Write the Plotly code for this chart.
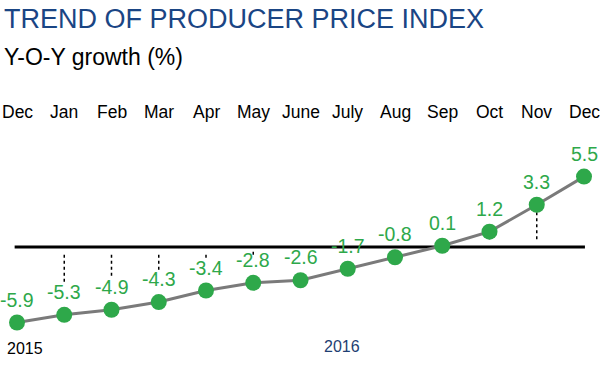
import plotly.graph_objects as go

months = ["Dec", "Jan", "Feb", "Mar", "Apr", "May", "June", "July", "Aug", "Sep", "Oct", "Nov", "Dec"]
ppi_yoy = [-5.9, -5.3, -4.9, -4.3, -3.4, -2.8, -2.6, -1.7, -0.8, 0.1, 1.2, 3.3, 5.5]
years = ["2015", "2016"]
year_pos = [0, 6.88]

W, H = 600, 381
PX_X = 47.25          # pixels per month
X0_PX = 17            # pixel of first point
PX_Y = 12.8           # pixels per percentage point
ZERO_PX = 247         # pixel row of zero line

x = list(range(len(months)))
xr = [-X0_PX / PX_X, (W - X0_PX) / PX_X]
yr = [-(H - ZERO_PX) / PX_Y, ZERO_PX / PX_Y]

def ypx(p):
    return (ZERO_PX - p) / PX_Y

GREEN = "#2ea84a"
FONT = "Liberation Sans, Arial, sans-serif"

fig = go.Figure()

# zero line
fig.add_shape(type="line", x0=-0.05, x1=12.02, y0=0, y1=0,
              line=dict(color="black", width=3), layer="below")

# dotted guide lines
label_gap = 31 / PX_Y
for i, v in enumerate(ppi_yoy):
    if i == 0 or i == len(ppi_yoy) - 1:
        continue
    if v < 0:
        end = v + label_gap
        if end < -0.2:
            fig.add_shape(type="line", x0=i, x1=i, y0=-0.6, y1=end,
                          line=dict(color="black", width=1.5, dash="dot"), layer="below")
    elif v > 0.5:
        fig.add_shape(type="line", x0=i, x1=i, y0=0.6, y1=v,
                      line=dict(color="black", width=1.5, dash="dot"), layer="below")

fig.add_trace(go.Scatter(
    x=x, y=ppi_yoy, mode="lines+markers",
    line=dict(color="#7a7a7a", width=3),
    marker=dict(color=GREEN, size=16, line=dict(width=0)),
    hoverinfo="skip", showlegend=False,
))

# value labels
for i, v in enumerate(ppi_yoy):
    fig.add_annotation(x=i, y=v, text=f"{v:.1f}", showarrow=False, yshift=23,
                       font=dict(family=FONT, size=19.5, color=GREEN))

# month labels
for i, m in enumerate(months):
    fig.add_annotation(x=i, y=ypx(112), text=m, showarrow=False,
                       font=dict(family=FONT, size=17.5, color="black"))

# years
fig.add_annotation(x=year_pos[0], y=ypx(348), text=years[0], showarrow=False,
                   xanchor="left", xshift=-12, font=dict(family=FONT, size=16, color="black"))
fig.add_annotation(x=year_pos[1], y=ypx(346), text=years[1], showarrow=False,
                   font=dict(family=FONT, size=16, color="#1f3f73"))

# title & subtitle
fig.add_annotation(xref="paper", yref="paper", x=2 / W, y=1 - 19 / H, text="TREND OF PRODUCER PRICE INDEX",
                   showarrow=False, xanchor="left", yanchor="middle",
                   font=dict(family=FONT, size=27, color="#1a4584"))
fig.add_annotation(xref="paper", yref="paper", x=2 / W, y=1 - 57 / H, text="Y-O-Y growth (%)",
                   showarrow=False, xanchor="left", yanchor="middle",
                   font=dict(family=FONT, size=23, color="black"))

fig.update_layout(
    width=W, height=H, margin=dict(l=0, r=0, t=0, b=0),
    paper_bgcolor="white", plot_bgcolor="white",
    xaxis=dict(range=xr, visible=False, fixedrange=True),
    yaxis=dict(range=yr, visible=False, fixedrange=True),
)

fig.write_html("out.html", config={"displayModeBar": False},
               post_script="document.body.style.margin='0px';document.body.style.overflow='hidden';")
